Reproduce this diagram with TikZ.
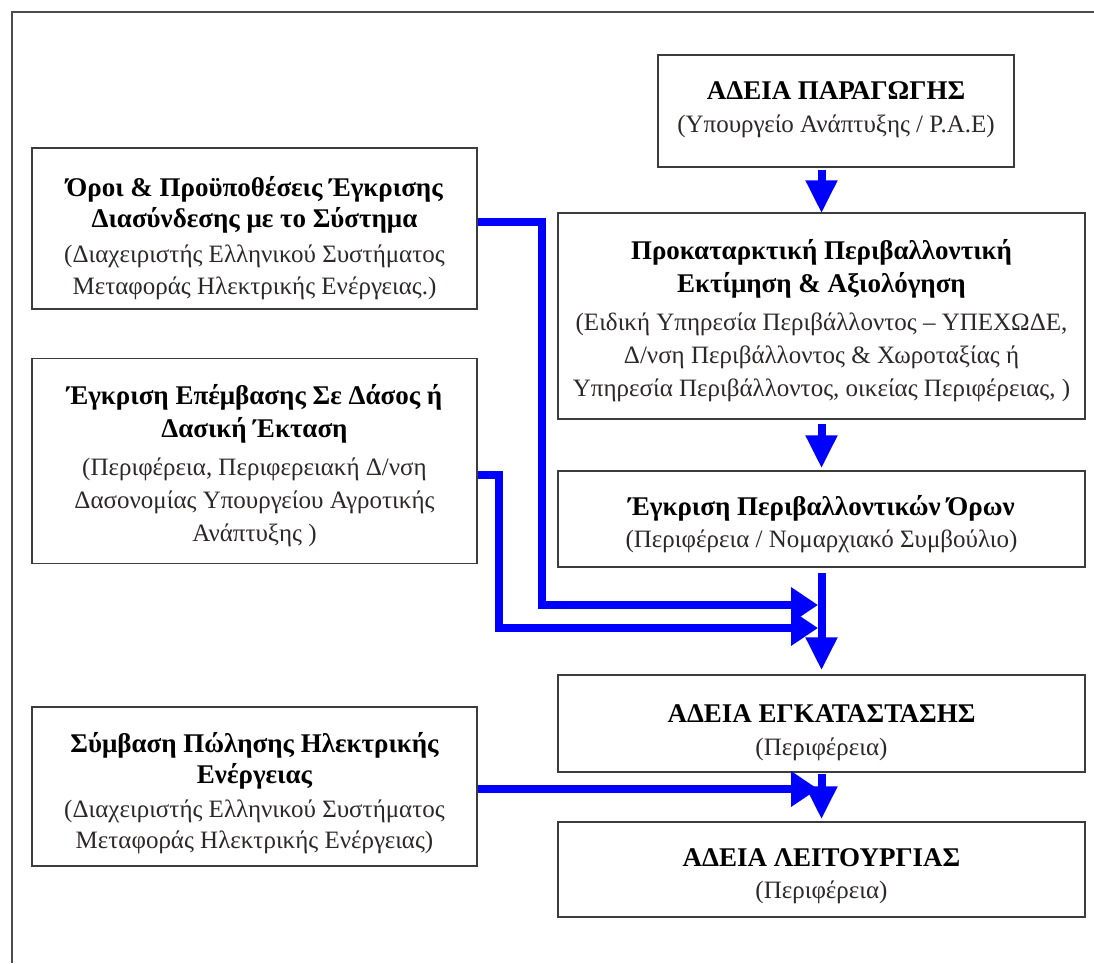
\documentclass[tikz,border=0pt]{standalone}
\usepackage{fontspec}
\setmainfont{Liberation Serif}
\usetikzlibrary{arrows.meta}
\definecolor{arrowblue}{RGB}{0,0,255}
\definecolor{boxline}{RGB}{60,60,60}
\definecolor{subtext}{RGB}{45,40,40}
\newcommand{\bhead}[1]{{\fontsize{27}{33}\selectfont\bfseries\color{black}#1}}
\begin{document}
\begin{tikzpicture}[x=1pt,y=-1pt,
  box/.style={draw=boxline, line width=1.5pt, inner sep=0pt},
  txt/.style={align=center, inner sep=0pt, font=\fontsize{25}{33}\selectfont, text=subtext},
  vconn/.style={draw=arrowblue, line width=8pt, line join=miter,
    -{Triangle[length=33pt,width=30pt]}},
  hconn/.style={draw=arrowblue, line width=8pt, line join=miter,
    -{Triangle[length=27pt,width=34pt]}},
]
\useasboundingbox (0,0) rectangle (1094,963);
\draw[line width=2pt, black!70] (12,963) -- (12,12) -- (1094,12);

% right column
\node[box, minimum width=356pt, minimum height=112pt] (A) at (836,111) {};
\node[txt] (At) at ([yshift=1pt]A.center) {\bhead{ΑΔΕΙΑ ΠΑΡΑΓΩΓΗΣ}\\(Υπουργείο Ανάπτυξης / Ρ.Α.Ε)};

\node[box, minimum width=527pt, minimum height=206pt] (B) at (821.5,316) {};
\node[txt] (Bt) at ([yshift=-5pt]B.center)
 {\bhead{Προκαταρκτική Περιβαλλοντική}\\\bhead{Εκτίμηση \& Αξιολόγηση}\\[5pt](Ειδική Υπηρεσία Περιβάλλοντος – ΥΠΕΧΩΔΕ,\\Δ/νση Περιβάλλοντος \& Χωροταξίας ή\\Υπηρεσία Περιβάλλοντος, οικείας Περιφέρειας, )};

\node[box, minimum width=527pt, minimum height=96pt] (C) at (821.5,519) {};
\node[txt] (Ct) at ([yshift=-5pt]C.center)
 {\bhead{Έγκριση Περιβαλλοντικών Όρων}\\[-1pt](Περιφέρεια / Νομαρχιακό Συμβούλιο)};

\node[box, minimum width=527pt, minimum height=97pt] (D) at (821.5,723.5) {};
\node[txt] (Dt) at ([yshift=-9pt]D.center)
 {\bhead{ΑΔΕΙΑ ΕΓΚΑΤΑΣΤΑΣΗΣ}\\(Περιφέρεια)};

\node[box, minimum width=527pt, minimum height=95pt] (E) at (821.5,869.5) {};
\node[txt] (Et) at ([yshift=-7pt]E.center)
 {\bhead{ΑΔΕΙΑ ΛΕΙΤΟΥΡΓΙΑΣ}\\[-1pt](Περιφέρεια)};

% left column
\node[box, minimum width=445pt, minimum height=161pt] (L1) at (254.5,228.5) {};
\node[txt] (L1t) at ([yshift=-10pt]L1.center)
 {\bhead{Όροι \& Προϋποθέσεις Έγκρισης}\\[-2pt]\bhead{Διασύνδεσης με το Σύστημα}\\[2pt](Διαχειριστής Ελληνικού Συστήματος\\[-1pt]Μεταφοράς Ηλεκτρικής Ενέργειας.)};

\node[box, minimum width=445pt, minimum height=205pt] (L2) at (254.5,461) {};
\node[txt] (L2t) at ([yshift=-5pt]L2.center)
 {\bhead{Έγκριση Επέμβασης Σε Δάσος ή}\\\bhead{Δασική Έκταση}\\[5pt](Περιφέρεια, Περιφερειακή Δ/νση\\Δασονομίας Υπουργείου Αγροτικής\\Ανάπτυξης )};

\node[box, minimum width=445pt, minimum height=159pt] (L3) at (254.5,786.5) {};
\node[txt] (L3t) at ([yshift=-7pt]L3.center)
 {\bhead{Σύμβαση Πώλησης Ηλεκτρικής}\\[-2pt]\bhead{Ενέργειας}\\[1pt](Διαχειριστής Ελληνικού Συστήματος\\[-2pt]Μεταφοράς Ηλεκτρικής Ενέργειας)};

% connector end points
\coordinate (t1) at (818,605);
\coordinate (t2) at (818,628);
\coordinate (t3) at (818,789);

% connectors
\draw[vconn, shorten <=2pt, shorten >=-1pt] (A.south -| B.north) -- (B.north);
\draw[vconn, shorten <=4pt, shorten >=2pt] (B.south) -- (C.north);
\draw[vconn, shorten <=5pt, shorten >=4pt] (C.south) -- (D.north);
\draw[hconn] ([yshift=7pt]L1.east) -- ++(64,0) |- (t1);
\draw[hconn] ([yshift=-14pt]L2.east) -- ++(21,0) |- (t2);
\draw[vconn, shorten <=1pt, shorten >=2pt] (D.south) -- (E.north);
\draw[hconn] ([yshift=-2.5pt]L3.east) -- (t3);
\end{tikzpicture}
\end{document}
